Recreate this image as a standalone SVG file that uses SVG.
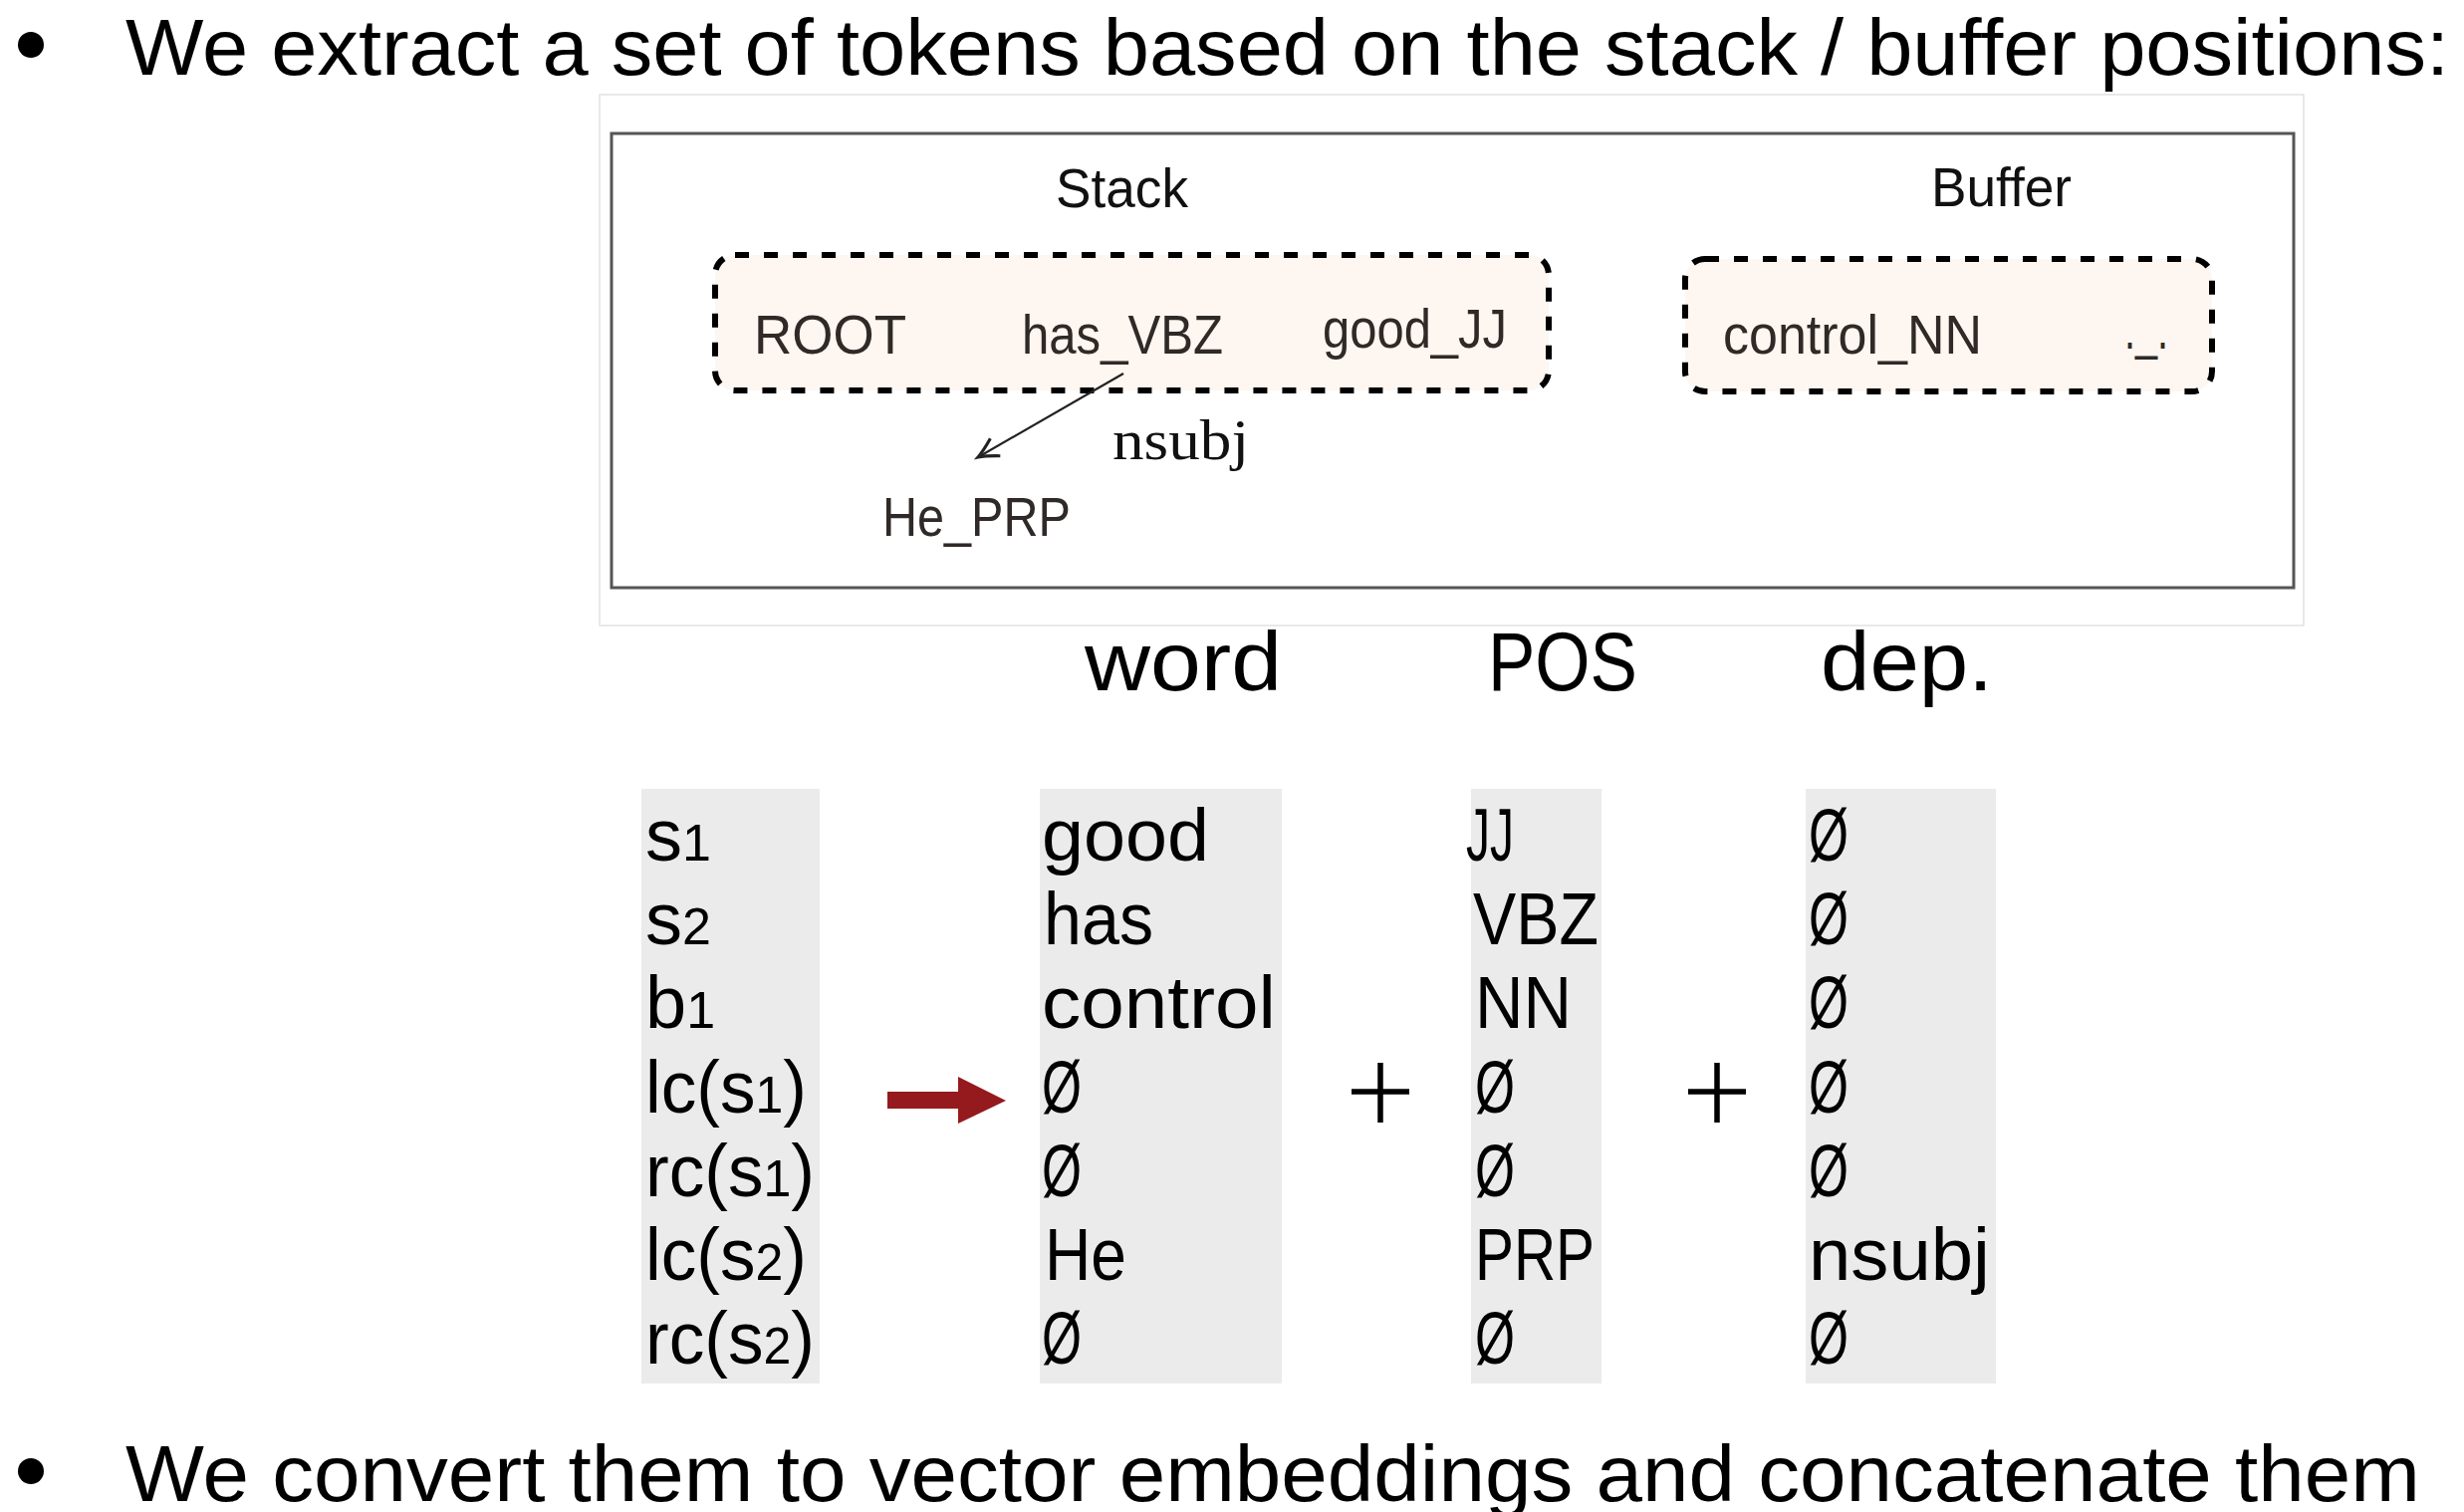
<svg xmlns="http://www.w3.org/2000/svg" width="2474" height="1518" viewBox="0 0 2474 1518">
  <style>
    .bul { font-family: "Liberation Sans", Arial, sans-serif; font-size: 80px; fill: #000; }
    .hdr { font-family: "Liberation Sans", Arial, sans-serif; font-size: 84px; fill: #000; }
    .tab { font-family: "Liberation Sans", Arial, sans-serif; font-size: 74px; fill: #000; }
    .sub { font-size: 52px; }
    .tok { font-family: "Liberation Sans", Arial, sans-serif; font-size: 56px; fill: #2f2a27; }
    .ttl { font-family: "Liberation Sans", Arial, sans-serif; font-size: 55px; fill: #111; }
    .lbl { font-family: "Liberation Serif", "Times New Roman", serif; font-size: 58px; fill: #111; }
    .dash { fill: #fef6f0; stroke: #000; stroke-width: 6; stroke-dasharray: 14 15; }
    .col { fill: #ebebeb; }
  </style>
  <defs>
    <marker id="tip" markerUnits="userSpaceOnUse" markerWidth="30" markerHeight="30" refX="0" refY="0" viewBox="-20 -12 24 24" orient="auto">
      <path d="M -16 -8 Q -6 -2 0 0 Q -6 2 -16 8" fill="none" stroke="#222" stroke-width="2.5"/>
    </marker>
  </defs>

  <rect width="2474" height="1518" fill="#fff"/>

  <g id="bullet-top">
    <circle cx="31" cy="45" r="13" fill="#000"/>
    <text class="bul" x="126" y="75" textLength="2333" lengthAdjust="spacingAndGlyphs">We extract a set of tokens based on the stack / buffer positions:</text>
  </g>

  <g id="figure-frame">
    <rect x="602" y="95" width="1711" height="533" fill="#fff" stroke="#e2e2e2" stroke-width="1.5"/>
    <rect x="614" y="134" width="1689" height="456" fill="#fff" stroke="#555" stroke-width="3"/>
  </g>

  <g id="stack">
    <text class="ttl" x="1060" y="208" textLength="133" lengthAdjust="spacingAndGlyphs">Stack</text>
    <rect class="dash" x="718" y="256" width="837" height="136" rx="20"/>
    <text class="tok" x="757" y="355" textLength="153" lengthAdjust="spacingAndGlyphs">ROOT</text>
    <text class="tok" x="1026" y="355" textLength="202" lengthAdjust="spacingAndGlyphs">has_VBZ</text>
    <text class="tok" x="1328" y="349" textLength="185" lengthAdjust="spacingAndGlyphs">good_JJ</text>
  </g>

  <g id="buffer">
    <text class="ttl" x="1939" y="207" textLength="141" lengthAdjust="spacingAndGlyphs">Buffer</text>
    <rect class="dash" x="1692" y="260" width="529" height="133" rx="20"/>
    <text class="tok" x="1730" y="355" textLength="260" lengthAdjust="spacingAndGlyphs">control_NN</text>
    <text class="tok" x="2133" y="350" font-size="36" fill="#555" textLength="44" lengthAdjust="spacingAndGlyphs">._.</text>
  </g>

  <g id="he-prp">
    <text class="tok" x="886" y="538" textLength="189" lengthAdjust="spacingAndGlyphs">He_PRP</text>
  </g>

  <g id="connectors">
    <line x1="1128" y1="375" x2="982" y2="459" stroke="#222" stroke-width="2.2" marker-end="url(#tip)"/>
    <text class="lbl" x="1117" y="461" textLength="137" lengthAdjust="spacingAndGlyphs">nsubj</text>
    <polygon points="891,1096 962,1096 962,1081 1010,1105 962,1128 962,1113 891,1113" fill="#951a1d"/>
  </g>

  <g id="headers">
    <text class="hdr" x="1089" y="693" textLength="198" lengthAdjust="spacingAndGlyphs">word</text>
    <text class="hdr" x="1494" y="693" textLength="150" lengthAdjust="spacingAndGlyphs">POS</text>
    <text class="hdr" x="1828" y="693" textLength="173" lengthAdjust="spacingAndGlyphs">dep.</text>
  </g>

  <g id="col-positions">
    <rect class="col" x="644" y="792" width="179" height="597"/>
    <text class="tab" x="648" y="864">s<tspan class="sub">1</tspan></text>
    <text class="tab" x="648" y="948">s<tspan class="sub">2</tspan></text>
    <text class="tab" x="648" y="1032">b<tspan class="sub">1</tspan></text>
    <text class="tab" x="648" y="1117" textLength="162" lengthAdjust="spacingAndGlyphs">lc(s<tspan class="sub">1</tspan>)</text>
    <text class="tab" x="648" y="1201" textLength="170" lengthAdjust="spacingAndGlyphs">rc(s<tspan class="sub">1</tspan>)</text>
    <text class="tab" x="648" y="1285" textLength="162" lengthAdjust="spacingAndGlyphs">lc(s<tspan class="sub">2</tspan>)</text>
    <text class="tab" x="648" y="1369" textLength="170" lengthAdjust="spacingAndGlyphs">rc(s<tspan class="sub">2</tspan>)</text>
  </g>

  <g id="col-word">
    <rect class="col" x="1044" y="792" width="243" height="597"/>
    <text class="tab" x="1046" y="864" textLength="168" lengthAdjust="spacingAndGlyphs">good</text>
    <text class="tab" x="1048" y="948" textLength="110" lengthAdjust="spacingAndGlyphs">has</text>
    <text class="tab" x="1046" y="1032" textLength="235" lengthAdjust="spacingAndGlyphs">control</text>
    <text class="tab" x="1046" y="1117" textLength="40" lengthAdjust="spacingAndGlyphs">Ø</text>
    <text class="tab" x="1046" y="1201" textLength="40" lengthAdjust="spacingAndGlyphs">Ø</text>
    <text class="tab" x="1049" y="1285" textLength="82" lengthAdjust="spacingAndGlyphs">He</text>
    <text class="tab" x="1046" y="1369" textLength="40" lengthAdjust="spacingAndGlyphs">Ø</text>
  </g>

  <g id="plus-1">
    <path d="M1357 1096 H1415 M1386 1067 V1127" stroke="#000" stroke-width="5.5" fill="none"/>
  </g>

  <g id="col-pos">
    <rect class="col" x="1477" y="792" width="131" height="597"/>
    <text class="tab" x="1472" y="864" textLength="48" lengthAdjust="spacingAndGlyphs">JJ</text>
    <text class="tab" x="1479" y="948" textLength="126" lengthAdjust="spacingAndGlyphs">VBZ</text>
    <text class="tab" x="1481" y="1032" textLength="97" lengthAdjust="spacingAndGlyphs">NN</text>
    <text class="tab" x="1481" y="1117" textLength="40" lengthAdjust="spacingAndGlyphs">Ø</text>
    <text class="tab" x="1481" y="1201" textLength="40" lengthAdjust="spacingAndGlyphs">Ø</text>
    <text class="tab" x="1481" y="1285" textLength="120" lengthAdjust="spacingAndGlyphs">PRP</text>
    <text class="tab" x="1481" y="1369" textLength="40" lengthAdjust="spacingAndGlyphs">Ø</text>
  </g>

  <g id="plus-2">
    <path d="M1695 1096 H1753 M1724 1067 V1127" stroke="#000" stroke-width="5.5" fill="none"/>
  </g>

  <g id="col-dep">
    <rect class="col" x="1813" y="792" width="191" height="597"/>
    <text class="tab" x="1816" y="864" textLength="40" lengthAdjust="spacingAndGlyphs">Ø</text>
    <text class="tab" x="1816" y="948" textLength="40" lengthAdjust="spacingAndGlyphs">Ø</text>
    <text class="tab" x="1816" y="1032" textLength="40" lengthAdjust="spacingAndGlyphs">Ø</text>
    <text class="tab" x="1816" y="1117" textLength="40" lengthAdjust="spacingAndGlyphs">Ø</text>
    <text class="tab" x="1816" y="1201" textLength="40" lengthAdjust="spacingAndGlyphs">Ø</text>
    <text class="tab" x="1816" y="1285" textLength="182" lengthAdjust="spacingAndGlyphs">nsubj</text>
    <text class="tab" x="1816" y="1369" textLength="40" lengthAdjust="spacingAndGlyphs">Ø</text>
  </g>

  <g id="bullet-bottom">
    <circle cx="31" cy="1477" r="13" fill="#000"/>
    <text class="bul" x="126" y="1507" textLength="2304" lengthAdjust="spacingAndGlyphs">We convert them to vector embeddings and concatenate them</text>
  </g>
</svg>
